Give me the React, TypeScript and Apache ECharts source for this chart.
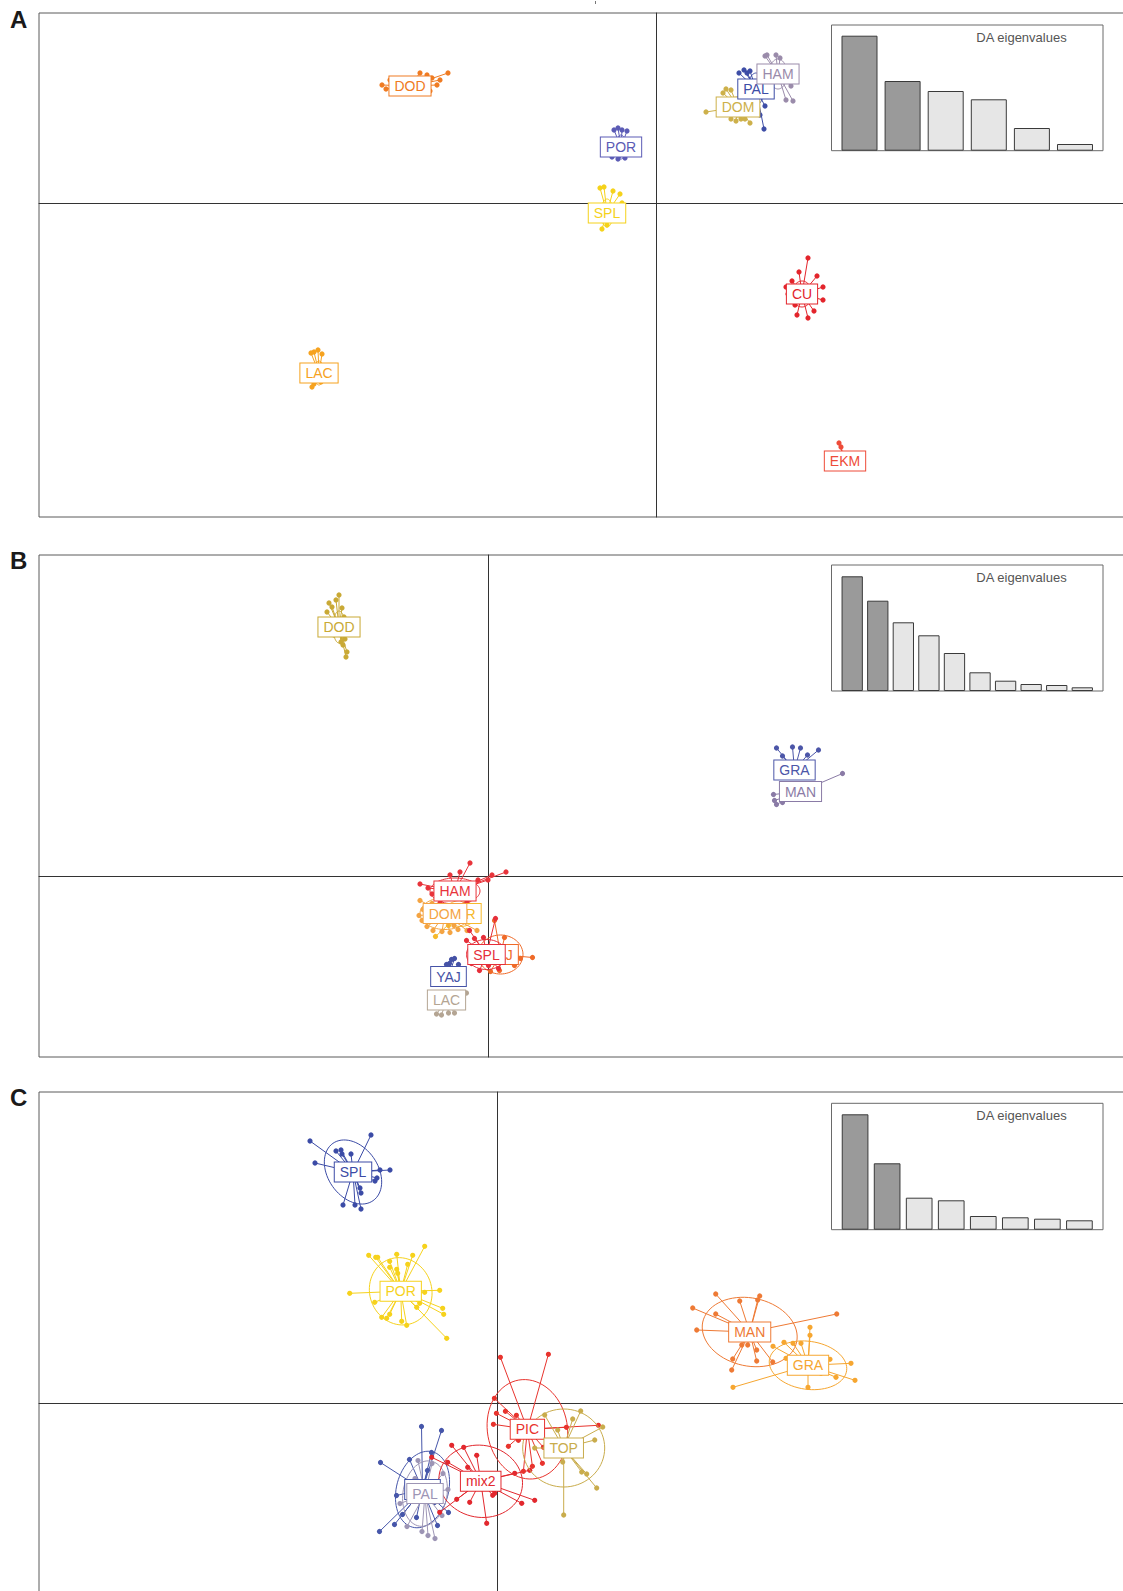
import React, { useEffect, useRef } from "react";
import * as echarts from "echarts";

// ---------------- Panel A ----------------
const A_GROUPS = ["DOD", "POR", "SPL", "DOM", "PAL", "HAM", "CU", "LAC", "EKM"];
const A_COLORS = ["#EF7B22", "#5B5BB5", "#F5D21A", "#CDB04A", "#3D4DA6", "#9A8BAA", "#E3242B", "#F6A21E", "#EE4B38"];
const A_CENTROIDS = [[-24.6, 11.7], [-3.5, 5.6], [-4.9, -1.0], [8.2, 9.6], [10.0, 11.4], [12.2, 12.9], [14.6, -9.1], [-33.7, -17.0], [18.9, -25.8]];
const A_POINTS = [
  [[-2.8, 0.1], [-2.0, 0.6], [1.0, 1.3], [1.7, 1.1], [2.2, 0.8], [3.8, 1.3], [2.7, 0.1], [3.0, 0.6], [2.0, -0.5], [0.4, -0.7], [-2.4, -0.3]],
  [[-0.7, 1.7], [-0.3, 1.9], [0.1, 1.7], [0.6, 1.6], [-0.9, -1.0], [-0.3, -1.2], [0.4, -1.1], [-0.2, -0.9]],
  [[-0.7, 2.5], [-0.3, 2.6], [0.6, 2.2], [1.3, 1.9], [-0.5, -1.6], [0.0, -1.2], [1.5, 1.0]],
  [[-3.2, -0.5], [-1.5, 1.4], [-1.2, 1.8], [-0.7, 1.7], [-0.7, -1.2], [-0.2, -1.4], [0.3, -1.2], [0.7, -1.2], [1.2, -1.6]],
  [[-1.7, 1.6], [-1.2, 1.9], [-0.9, 1.6], [-0.6, 1.8], [0.8, -4.0], [0.4, -2.6], [0.9, -1.7]],
  [[-1.3, 1.8], [-1.1, 1.9], [-0.2, 1.9], [0.2, 1.6], [1.3, -1.2], [0.8, -2.6], [1.5, -2.7], [-1.6, 0.6]],
  [[0.6, 3.6], [-1.0, 1.3], [-1.4, 0.0], [-0.7, -1.1], [-0.5, -2.1], [0.6, -2.4], [2.1, -0.6], [2.1, 0.7], [1.5, 1.8], [-0.3, 2.2], [-1.6, 0.7], [1.2, -1.7]],
  [[-0.5, 2.1], [-0.1, 2.3], [0.3, 1.9], [-0.8, 2.0], [-0.5, -1.1], [-0.7, -1.4], [0.2, -0.9]],
  [[-0.6, 1.8], [-0.4, 1.4], [-1.2, 0.2], [1.0, -0.3], [-0.8, -0.4], [0.5, 0.3]],
];
const A_ELLIPSES = [[1.6, 0.6, 10], [0.5, 1.2, 0], [0.6, 1.4, 0], [1.1, 1.0, 0], [0.8, 1.6, 0], [0.9, 1.5, 0], [1.0, 1.3, 0], [0.5, 1.2, 0], [0.6, 0.8, 0]];
const A_EIG = [115, 69.7, 59.7, 51.4, 22.7, 6.7];

// ---------------- Panel B ----------------
const B_GROUPS = ["DOD", "GRA", "MAN", "YAJ", "LAC", "POR", "DOM", "HAM", "PAJ", "SPL"];
const B_COLORS = ["#C9A935", "#4C56A8", "#8A7BA6", "#4552A6", "#B4A593", "#F6B92B", "#F4A443", "#E8343B", "#EF6A28", "#E62F3A"];
const B_CENTROIDS = [[-14.95, 24.95], [30.6, 10.65], [31.2, 8.5], [-4.0, -10.0], [-4.2, -12.35], [-2.8, -3.7], [-4.35, -3.7], [-3.35, -1.45], [1.2, -7.8], [-0.2, -7.8]];
const B_POINTS = [
  [[0, 3.2], [-0.3, 2.7], [-1.0, 2.4], [-0.7, 2.0], [0.3, 1.9], [-1.2, 1.5], [0.5, 1.0], [0.6, -1.2], [0.4, -1.8], [0.8, -2.5], [0.7, -3.0], [-0.5, -0.8], [0.2, -1.5]],
  [[-1.8, 2.2], [-0.2, 2.3], [0.6, 2.2], [2.4, 2.0], [-1.2, 1.4], [1.3, 1.5]],
  [[-2.6, -0.9], [-2.4, -1.3], [-1.8, -1.1], [4.2, 1.8], [-2.7, -0.3]],
  [[0.3, 1.7], [0.6, 1.8], [0.1, 1.3], [1.0, 1.2], [-0.2, 1.2]],
  [[-1.0, -1.4], [-0.5, -1.5], [0.2, -1.3], [0.8, -1.3], [2.0, 0.7]],
  [[1.6, -0.6], [-2.5, -2.3], [-1.2, -1.2], [0.5, 1.0]],
  [[-2.5, 1.3], [-2.2, 0.4], [-2.3, -0.7], [-1.8, -1.3], [-1.2, -1.7], [-0.3, -1.8], [0.5, -1.9], [1.3, -1.6], [2.2, -1.7], [3.2, -1.7], [-1.3, 1.0], [-2.6, -0.2], [0.9, -1.2]],
  [[1.5, 2.8], [-3.5, 0.7], [-2.7, 0.3], [-2.3, -0.3], [-0.5, 1.6], [0.5, 1.9], [2.3, 1.1], [3.3, 1.1], [3.7, 1.6], [5.1, 1.9], [1.2, -1.2], [-1.5, -1.2]],
  [[-0.6, 3.4], [0.4, 1.7], [1.5, 0.6], [2.0, -0.4], [3.2, -0.3], [1.4, -1.1], [-0.1, -1.6], [-1.0, -1.7], [-2.5, 0.4]],
  [[-1.7, 2.4], [-2.0, 1.4], [-1.2, 1.6], [-0.3, 1.7], [0.9, 3.6], [0.2, -1.1], [-0.7, -1.6], [1.2, -1.4], [-1.5, -0.9]],
];
const B_ELLIPSES = [[0.6, 1.6, 0], [0, 0, 0], [0, 0, 0], [0, 0, 0], [0, 0, 0], [1.6, 1.3, 0], [2.5, 1.6, 0], [2.5, 1.3, 0], [2.25, 1.95, 0], [2.0, 1.5, 0]];
const B_EIG = [114.7, 90.3, 68.7, 55.7, 38, 18.7, 10.3, 7, 6, 3.7];

// ---------------- Panel C ----------------
const C_GROUPS = ["SPL", "POR", "MAN", "GRA", "YAJ", "PAL", "mix2", "PIC", "TOP"];
const C_COLORS = ["#3B4BA6", "#F6D21C", "#EE7A35", "#F6A630", "#4656AA", "#9D95B5", "#E2282E", "#E8342E", "#C9AC4C"];
const C_CENTROIDS = [[-14.4, 23.1], [-9.63, 11.17], [25.27, 7.1], [31.1, 3.77], [-7.45, -8.65], [-7.2, -9.06], [-1.63, -7.83], [3.04, -2.63], [6.67, -4.5]];
const C_POINTS = [
  [[-4.3, 3.1], [-3.8, 0.9], [-1.7, 2.1], [-1.2, 2.2], [-1.1, 1.8], [-0.2, 1.8], [1.8, 3.7], [2.7, 0.2], [3.7, 0.2], [2.4, -0.6], [2.2, -0.9], [0.7, -1.6], [0.8, -2.1], [-1.0, -3.3], [0.2, -3.3], [0.8, -3.7]],
  [[-3.2, 3.6], [-2.5, 3.4], [-2.3, 3.4], [-1.1, 3.0], [-0.4, 3.7], [1.2, 3.6], [2.4, 4.5], [-0.3, 1.8], [-1.1, 2.4], [-5.1, -0.2], [-2.6, -1.1], [-1.9, -2.6], [-1.4, -2.7], [-1.1, -2.3], [0.6, -3.4], [0.1, -3.0], [1.6, -1.6], [1.9, -1.2], [2.4, -0.1], [3.9, 0.1], [4.2, -1.7], [4.3, -2.3], [4.6, -4.7], [0.7, 2.7], [-0.4, 2.2]],
  [[-3.4, 3.8], [-5.7, 2.4], [-5.3, 0.2], [-1.0, 3.1], [1.0, 3.6], [0.8, 3.2], [8.7, 1.8], [-1.7, -2.7], [-1.8, -3.8], [-0.2, -1.3], [0.7, -1.8], [0.7, -2.9], [2.3, -3.0], [-0.8, -1.3], [-3.4, 1.8]],
  [[-7.5, -2.2], [-3.5, 1.9], [-2.4, 2.3], [-1.5, 2.2], [-0.7, 2.2], [0.2, 3.8], [0.2, 3.0], [2.2, 0.6], [4.3, 0.2], [2.8, -1.2], [4.7, -1.5], [0.0, -2.2], [1.3, -0.8], [-2.2, 0.7]],
  [[-0.1, 6.3], [1.9, 5.9], [-4.2, 2.7], [0.9, 3.7], [-2.6, -0.6], [-2.8, -3.5], [-4.3, -4.2], [-2.0, -2.5], [1.5, -3.6], [2.6, -2.3], [-0.6, -2.8], [0.5, 1.9], [-1.3, 3.0], [1.2, -1.3]],
  [[0.3, -4.2], [-1.8, -3.3], [0.7, 3.0], [-0.7, 3.3], [1.8, 2.0], [1.7, -2.2], [-0.3, -3.8], [1.0, -4.5], [-1.0, 1.5], [0.5, 0.8], [-2.5, -1.0], [2.3, 0.4]],
  [[-2.9, 3.6], [-1.7, 3.4], [-0.4, 2.6], [-1.3, 1.4], [-3.3, 1.9], [-4.9, 2.4], [0.6, -4.2], [-1.1, -2.1], [1.4, -1.2], [4.1, -2.2], [5.4, -1.9], [4.9, 1.1], [3.4, 0.8], [-4.1, -3.1], [1.2, -1.4], [-2.4, -1.8]],
  [[-2.7, 7.2], [2.1, 7.5], [-3.3, 3.1], [-2.2, 1.8], [-3.4, 0.5], [-3.1, 1.6], [7.1, 0.4], [3.9, 0.2], [-0.9, -1.1], [-1.9, -1.7], [0.5, -3.7], [-0.4, -4.2], [1.5, -3.4], [1.6, -1.8], [-1.1, 1.4]],
  [[-1.9, 3.3], [1.7, 3.7], [3.9, 2.1], [3.1, 0.8], [0.0, -6.7], [3.3, -4.0], [1.8, -2.4], [2.3, -2.6], [-0.1, -1.4], [-2.9, 0.0], [-0.6, 1.8], [0.9, 2.9]],
];
const C_ELLIPSES = [[2.5, 3.5, 35], [3.1, 3.4, 20], [4.8, 3.4, -12], [3.9, 2.4, -8], [2.6, 3.9, -15], [2.2, 3.3, -10], [4.2, 3.6, -10], [4.0, 5.0, 10], [4.1, 3.9, 0]];
const C_EIG = [115.4, 66.4, 32, 29.4, 13.7, 12.4, 11, 9.4];

const FONT = '"Liberation Sans", Arial, Helvetica, sans-serif';

type Box = { left: number; top: number; width: number; height: number };
type Panel = {
  names: string[];
  colors: string[];
  centroids: number[][];
  points: number[][][];
  ellipses: number[][];
  xr: number[];
  yr: number[];
  grid: Box;
  eig: number[];
  eigX: number[];
  eigMax: number;
  barW: number;
  inset: Box;
  letter: string;
  letterY: number;
};

const PANELS: Panel[] = [
  {
    names: A_GROUPS, colors: A_COLORS, centroids: A_CENTROIDS, points: A_POINTS, ellipses: A_ELLIPSES,
    xr: [-61.7, 47.7], yr: [-31.4, 19.0], grid: { left: 39, top: 13, width: 1094, height: 504 },
    eig: A_EIG, eigX: [0.35, 6.65], eigMax: 125.7, barW: 36,
    inset: { left: 831.5, top: 25, width: 271.5, height: 125.7 }, letter: "A", letterY: 19,
  },
  {
    names: B_GROUPS, colors: B_COLORS, centroids: B_CENTROIDS, points: B_POINTS, ellipses: B_ELLIPSES,
    xr: [-44.95, 64.45], yr: [-18.05, 32.15], grid: { left: 39, top: 555, width: 1094, height: 502 },
    eig: B_EIG, eigX: [0.19, 10.81], eigMax: 126, barW: 21.3,
    inset: { left: 831.5, top: 565, width: 271.5, height: 126 }, letter: "B", letterY: 560.3,
  },
  {
    names: C_GROUPS, colors: C_COLORS, centroids: C_CENTROIDS, points: C_POINTS, ellipses: C_ELLIPSES,
    xr: [-45.8, 63.6], yr: [-20.0, 31.1], grid: { left: 39, top: 1092, width: 1094, height: 511 },
    eig: C_EIG, eigX: [0.264, 8.736], eigMax: 126.4, barW: 26.7,
    inset: { left: 831.5, top: 1103.3, width: 271.5, height: 126.4 }, letter: "C", letterY: 1097.5,
  },
];

function buildOption() {
  const grid: any[] = [];
  const xAxis: any[] = [];
  const yAxis: any[] = [];
  const series: any[] = [];
  const graphic: any[] = [];

  PANELS.forEach((p, pi) => {
    const gi = pi * 2;
    grid.push({ ...p.grid, show: true, borderColor: "#5a5a5a", borderWidth: 1, containLabel: false });
    grid.push({ ...p.inset, show: true, borderColor: "#6a6a6a", borderWidth: 1, backgroundColor: "#fff", z: 5 });
    const axisCommon = {
      axisTick: { show: false },
      axisLabel: { show: false },
      splitLine: { show: false },
      axisLine: { show: true, onZero: true, lineStyle: { color: "#333", width: 1 } },
    };
    xAxis.push({ type: "value", gridIndex: gi, min: p.xr[0], max: p.xr[1], ...axisCommon });
    yAxis.push({ type: "value", gridIndex: gi, min: p.yr[0], max: p.yr[1], ...axisCommon });
    xAxis.push({ type: "value", gridIndex: gi + 1, min: p.eigX[0], max: p.eigX[1], show: false, splitLine: { show: false } });
    yAxis.push({ type: "value", gridIndex: gi + 1, min: 0, max: p.eigMax, show: false, splitLine: { show: false } });

    const data = p.centroids.map((c, i) => [c[0], c[1], i]);

    series.push({
      type: "custom",
      xAxisIndex: gi,
      yAxisIndex: gi,
      data,
      encode: { x: 0, y: 1 },
      clip: false,
      silent: true,
      z: 2,
      renderItem: (params: any, api: any) => {
        const idx = api.value(2);
        const [cx, cy] = p.centroids[idx];
        const color = p.colors[idx];
        const c = api.coord([cx, cy]);
        const children: any[] = [];
        const el = p.ellipses[idx];
        if (el && el[0] > 0) {
          const pts: number[][] = [];
          const a = (el[2] * Math.PI) / 180;
          for (let k = 0; k < 72; k++) {
            const t = (k / 72) * Math.PI * 2;
            const ex = el[0] * Math.cos(t);
            const ey = el[1] * Math.sin(t);
            pts.push(api.coord([cx + ex * Math.cos(a) - ey * Math.sin(a), cy + ex * Math.sin(a) + ey * Math.cos(a)]));
          }
          children.push({ type: "polygon", shape: { points: pts }, style: { fill: "none", stroke: color, lineWidth: 1 } });
        }
        p.points[idx].forEach((d) => {
          const q = api.coord([cx + d[0], cy + d[1]]);
          children.push({ type: "line", shape: { x1: c[0], y1: c[1], x2: q[0], y2: q[1] }, style: { stroke: color, lineWidth: 1 } });
          children.push({ type: "circle", shape: { cx: q[0], cy: q[1], r: 2.6 }, style: { fill: color } });
        });
        return { type: "group", children };
      },
    });

    series.push({
      type: "custom",
      xAxisIndex: gi,
      yAxisIndex: gi,
      data,
      encode: { x: 0, y: 1 },
      clip: false,
      silent: true,
      z: 4,
      renderItem: (params: any, api: any) => {
        const idx = api.value(2);
        const c = api.coord([api.value(0), api.value(1)]);
        const color = p.colors[idx];
        return {
          type: "text",
          x: c[0],
          y: c[1],
          style: {
            text: p.names[idx],
            fill: color,
            fontSize: 14,
            fontFamily: FONT,
            align: "center",
            verticalAlign: "middle",
            backgroundColor: "#fff",
            borderColor: color,
            borderWidth: 1,
            padding: [2, 5, 2, 5],
            lineHeight: 15,
          },
        };
      },
    });

    series.push({
      type: "bar",
      xAxisIndex: gi + 1,
      yAxisIndex: gi + 1,
      barWidth: p.barW,
      silent: true,
      z: 6,
      data: p.eig.map((v, i) => ({
        value: [i + 1, v],
        itemStyle: { color: i < 2 ? "#9a9a9a" : "#e6e6e6", borderColor: "#3a3a3a", borderWidth: 1 },
      })),
    });

    graphic.push({
      type: "text",
      x: p.inset.left + 190,
      y: p.inset.top + 12,
      z: 100,
      style: { text: "DA eigenvalues", fill: "#555", fontSize: 13, fontFamily: FONT, align: "center", verticalAlign: "middle" },
    });
    graphic.push({
      type: "text",
      x: 10,
      y: p.letterY,
      z: 100,
      style: { text: p.letter, fill: "#1a1a1a", fontSize: 24, fontWeight: "bold", fontFamily: FONT, align: "left", verticalAlign: "middle" },
    });
  });

  graphic.push({ type: "rect", shape: { x: 595, y: 1, width: 1, height: 3 }, style: { fill: "#777" } });

  return { animation: false, backgroundColor: "#fff", grid, xAxis, yAxis, series, graphic };
}

export default function App() {
  const ref = useRef<HTMLDivElement>(null);
  useEffect(() => {
    if (!ref.current) return;
    const chart = echarts.init(ref.current, undefined, { renderer: "svg" });
    chart.setOption(buildOption() as any);
    return () => chart.dispose();
  }, []);
  return (
    <div style={{ position: "absolute", left: 0, top: 0, width: 1123, height: 1591, overflow: "hidden", background: "#fff" }}>
      <div ref={ref} style={{ position: "absolute", left: 0, top: 0, width: 1150, height: 1620 }} />
    </div>
  );
}
